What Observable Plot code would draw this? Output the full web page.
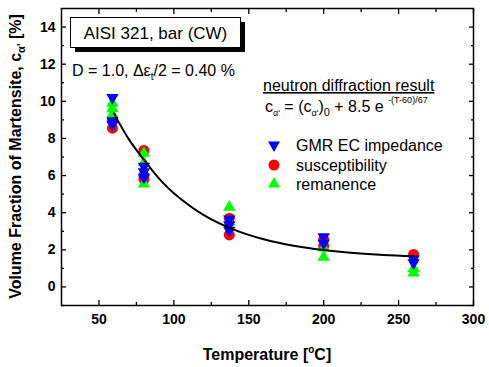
<!DOCTYPE html>
<html><head><meta charset="utf-8">
<script src="https://cdn.jsdelivr.net/npm/d3@7"></script>
<script src="https://cdn.jsdelivr.net/npm/@observablehq/plot@0.6"></script>
<style>
body{margin:0;background:#fff}
svg{font-family:Arial,"Liberation Sans",sans-serif}
</style>
</head><body><div id="chart"></div>
<script>
// Data
const gmrT = [59,59,59,80,80,80,137,137,137,200,200,260,260];
const gmrV = [10.2,8.95,8.75,6.5,6.2,5.9,3.65,3.35,3.05,2.7,2.35,1.5,1.3];
const susT = [59,59,80,80,80,137,137,200,200,260];
const susV = [9.0,8.55,7.35,6.0,5.8,3.7,2.8,2.55,2.2,1.75];
const remT = [59,59,59,80,80,80,137,137,200,200,260,260];
const remV = [9.9,9.6,9.3,7.2,6.7,5.55,4.3,3.5,2.1,1.6,1.0,0.75];
// fitted curve
const fitT = [60,70,80,90,100,120,140,160,180,200,220,240,260];
const fitV = [9.35,7.95,6.85,5.85,5.05,3.87,3.09,2.57,2.22,1.99,1.83,1.72,1.65];
// ticks
const xMajor = [50,100,150,200,250,300];
const xMinor = [75,125,175,225,275];
const yMajor = [0,2,4,6,8,10,12,14];
const yMinor = [-1,1,3,5,7,9,11,13];
const seriesNames = ["GMR EC impedance","susceptibility","remanence"];
const seriesColors = ["#0000ff","#ff0000","#00ff00"];

const gmr = gmrT.map((t,i)=>({t, v:gmrV[i]}));
const sus = susT.map((t,i)=>({t, v:susV[i]}));
const rem = remT.map((t,i)=>({t, v:remV[i]}));
const fit = fitT.map((t,i)=>({t, v:fitV[i]}));

const W = 489, H = 367;
const none = () => "";
const plot = Plot.plot({
  width: W, height: H,
  marginLeft: 61, marginRight: 16, marginTop: 8, marginBottom: 62,
  style: {fontFamily: "Arial, 'Liberation Sans', sans-serif", color: "#000", background: "#fff"},
  x: {domain: [25,300], label: null},
  y: {domain: [-1,15], label: null},
  marks: [
    Plot.axisX({ticks: xMajor, tickSize: 0, tickPadding: 9, fontSize: 14, fontWeight: "bold", label: null}),
    Plot.axisY({ticks: yMajor, tickSize: 0, tickPadding: 6, fontSize: 14, fontWeight: "bold", label: null}),
    // inward ticks: outward ticks shifted inside the frame
    Plot.axisX({anchor: "bottom", ticks: xMajor, tickSize: 5, dy: -5, tickFormat: none, label: null, strokeWidth: 1.3}),
    Plot.axisX({anchor: "bottom", ticks: xMinor, tickSize: 3, dy: -3, tickFormat: none, label: null, strokeWidth: 1.3}),
    Plot.axisX({anchor: "top", ticks: xMajor, tickSize: 5, dy: 5, tickFormat: none, label: null, strokeWidth: 1.3}),
    Plot.axisX({anchor: "top", ticks: xMinor, tickSize: 3, dy: 3, tickFormat: none, label: null, strokeWidth: 1.3}),
    Plot.axisY({anchor: "left", ticks: yMajor, tickSize: 5, dx: 5, tickFormat: none, label: null, strokeWidth: 1.3}),
    Plot.axisY({anchor: "left", ticks: yMinor, tickSize: 3, dx: 3, tickFormat: none, label: null, strokeWidth: 1.3}),
    Plot.axisY({anchor: "right", ticks: yMajor, tickSize: 5, dx: -5, tickFormat: none, label: null, strokeWidth: 1.3}),
    Plot.axisY({anchor: "right", ticks: yMinor, tickSize: 3, dx: -3, tickFormat: none, label: null, strokeWidth: 1.3}),
    Plot.dot(sus, {x: "t", y: "v", r: 5.5, fill: seriesColors[1], stroke: "none"}),
    Plot.dot(rem, {x: "t", y: "v", symbol: "triangle", r: 4.6, fill: seriesColors[2], stroke: "none"}),
    Plot.dot(gmr, {x: "t", y: "v", symbol: "triangle", r: 4.6, rotate: 180, fill: seriesColors[0], stroke: "none"}),
    Plot.line(fit, {x: "t", y: "v", curve: "catmull-rom", stroke: "#000", strokeWidth: 2}),
    Plot.frame({stroke: "#000", strokeWidth: 1.5})
  ]
});
document.getElementById("chart").appendChild(plot);

const svg = d3.select(plot);
const F = "Arial, 'Liberation Sans', sans-serif";
const g = svg.append("g").attr("text-anchor", "start").attr("font-family", F).attr("fill", "#000");

// Y axis title
const yt = g.append("text")
  .attr("transform", `translate(21,${(8+305)/2}) rotate(-90)`)
  .attr("text-anchor", "middle")
  .attr("font-size", 16).attr("font-weight", "bold");
yt.append("tspan").text("Volume Fraction of Martensite, c");
yt.append("tspan").attr("font-size", 11).attr("dy", 4).text("α'");
yt.append("tspan").attr("dy", -4).text(" [%]");

// X axis title
const xt = g.append("text")
  .attr("x", (61+473)/2).attr("y", 360)
  .attr("text-anchor", "middle")
  .attr("font-size", 16).attr("font-weight", "bold");
xt.append("tspan").text("Temperature [");
xt.append("tspan").attr("font-size", 10).attr("dy", -7).text("o");
xt.append("tspan").attr("dy", 7).text("C]");

// Title box with shadow
g.append("rect").attr("x", 75).attr("y", 22).attr("width", 170).attr("height", 30).attr("fill", "#000");
g.append("rect").attr("x", 70.5).attr("y", 17.5).attr("width", 170).attr("height", 30).attr("fill", "#fff").attr("stroke", "#000").attr("stroke-width", 1);
g.append("text").attr("x", 155.5).attr("y", 38.5).attr("text-anchor", "middle")
  .attr("font-size", 17).text("AISI 321, bar (CW)");

// D line
const dl = g.append("text").attr("x", 72).attr("y", 76).attr("text-anchor", "start").attr("font-size", 16);
dl.append("tspan").text("D = 1.0, Δε");
dl.append("tspan").attr("font-size", 10).attr("dy", 4).text("t");
dl.append("tspan").attr("dy", -4).text("/2 = 0.40 %");

// neutron diffraction
g.append("text").attr("x", 263).attr("y", 91).attr("text-anchor", "start").attr("font-size", 16)
  .attr("text-decoration", "underline").text("neutron diffraction result");
const fm = g.append("text").attr("x", 265).attr("y", 112).attr("text-anchor", "start").attr("font-size", 16);
fm.append("tspan").text("c");
fm.append("tspan").attr("font-size", 9).attr("dy", 4).text("α'");
fm.append("tspan").attr("dy", -4).text(" = (c");
fm.append("tspan").attr("font-size", 9).attr("dy", 4).text("α'");
fm.append("tspan").attr("dy", -4).text(")");
fm.append("tspan").attr("font-size", 11).attr("dy", 4).text("0");
fm.append("tspan").attr("dy", -4).text(" + 8.5 e ");
fm.append("tspan").attr("font-size", 9).attr("dy", -9).text("-(T-60)/67");

// Legend
const lx = 274, ly = [145, 165, 184];
const syms = [d3.symbolTriangle, d3.symbolCircle, d3.symbolTriangle];
const rots = [180, 0, 0];
const sizes = [62, Math.PI*5.5*5.5, 62];
seriesNames.forEach((name, i) => {
  g.append("path").attr("d", d3.symbol(syms[i], sizes[i])())
    .attr("transform", `translate(${lx},${ly[i]}) rotate(${rots[i]})`)
    .attr("fill", seriesColors[i]);
  g.append("text").attr("x", 296).attr("y", ly[i] + 5.5).attr("text-anchor", "start")
    .attr("font-size", 16).text(name);
});
</script>
</body></html>
